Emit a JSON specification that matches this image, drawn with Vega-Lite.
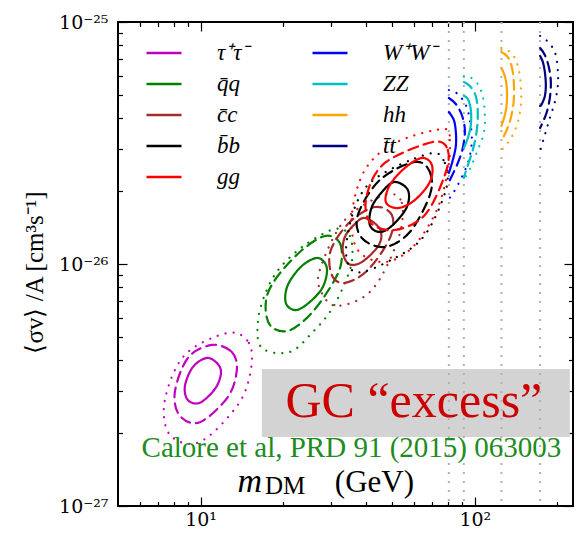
{
"$schema": "https://vega.github.io/schema/vega-lite/v6.json",
"width": 455, "height": 484,
"autosize": {"type": "none"},
"padding": {"left": 118, "top": 22, "right": 5, "bottom": 27},
"background": "white",
"config": {"view": {"stroke": "black", "strokeWidth": 2}, "font": "Liberation Serif"},
"datasets": {
"thr": [{"m": 80.4}, {"m": 91.2}, {"m": 125}, {"m": 173}],
"box": [{"x1": 16.73, "x2": 222, "y1": 1.928e-27, "y2": 3.683e-27}],
"closed": [
{"ch":"τ⁺τ⁻","lv":"1","i":1,"m":10.54,"sv":4.09e-27},{"ch":"τ⁺τ⁻","lv":"1","i":2,"m":11.56,"sv":3.86e-27},{"ch":"τ⁺τ⁻","lv":"1","i":3,"m":11.86,"sv":3.51e-27},{"ch":"τ⁺τ⁻","lv":"1","i":4,"m":11.27,"sv":3.04e-27},{"ch":"τ⁺τ⁻","lv":"1","i":5,"m":9.94,"sv":2.67e-27},{"ch":"τ⁺τ⁻","lv":"1","i":6,"m":8.99,"sv":2.74e-27},{"ch":"τ⁺τ⁻","lv":"1","i":7,"m":8.77,"sv":3.13e-27},{"ch":"τ⁺τ⁻","lv":"1","i":8,"m":9.37,"sv":3.75e-27},
{"ch":"τ⁺τ⁻","lv":"2","i":1,"m":11.0,"sv":4.63e-27},{"ch":"τ⁺τ⁻","lv":"2","i":2,"m":13.0,"sv":4.33e-27},{"ch":"τ⁺τ⁻","lv":"2","i":3,"m":13.56,"sv":3.65e-27},{"ch":"τ⁺τ⁻","lv":"2","i":4,"m":12.57,"sv":2.82e-27},{"ch":"τ⁺τ⁻","lv":"2","i":5,"m":9.94,"sv":2.22e-27},{"ch":"τ⁺τ⁻","lv":"2","i":6,"m":8.40,"sv":2.36e-27},{"ch":"τ⁺τ⁻","lv":"2","i":7,"m":8.06,"sv":2.96e-27},{"ch":"τ⁺τ⁻","lv":"2","i":8,"m":8.99,"sv":4.09e-27},
{"ch":"τ⁺τ⁻","lv":"3","i":1,"m":12.57,"sv":5.19e-27},{"ch":"τ⁺τ⁻","lv":"3","i":2,"m":15.0,"sv":4.72e-27},{"ch":"τ⁺τ⁻","lv":"3","i":3,"m":15.25,"sv":3.65e-27},{"ch":"τ⁺τ⁻","lv":"3","i":4,"m":13.68,"sv":2.62e-27},{"ch":"τ⁺τ⁻","lv":"3","i":5,"m":9.94,"sv":1.84e-27},{"ch":"τ⁺τ⁻","lv":"3","i":6,"m":7.73,"sv":1.97e-27},{"ch":"τ⁺τ⁻","lv":"3","i":7,"m":7.41,"sv":2.74e-27},{"ch":"τ⁺τ⁻","lv":"3","i":8,"m":8.77,"sv":4.21e-27},
{"ch":"q̄q","lv":"1","i":1,"m":26.78,"sv":1.059e-26},{"ch":"q̄q","lv":"1","i":2,"m":28.87,"sv":9.63e-27},{"ch":"q̄q","lv":"1","i":3,"m":27.92,"sv":8.04e-27},{"ch":"q̄q","lv":"1","i":4,"m":25.03,"sv":6.97e-27},{"ch":"q̄q","lv":"1","i":5,"m":22.26,"sv":6.45e-27},{"ch":"q̄q","lv":"1","i":6,"m":20.46,"sv":6.90e-27},{"ch":"q̄q","lv":"1","i":7,"m":20.81,"sv":8.19e-27},{"ch":"q̄q","lv":"1","i":8,"m":23.40,"sv":9.81e-27},
{"ch":"q̄q","lv":"2","i":1,"m":28.39,"sv":1.305e-26},{"ch":"q̄q","lv":"2","i":2,"m":32.19,"sv":1.221e-26},{"ch":"q̄q","lv":"2","i":3,"m":32.47,"sv":9.91e-27},{"ch":"q̄q","lv":"2","i":4,"m":29.61,"sv":7.96e-27},{"ch":"q̄q","lv":"2","i":5,"m":25.03,"sv":6.16e-27},{"ch":"q̄q","lv":"2","i":6,"m":20.81,"sv":5.29e-27},{"ch":"q̄q","lv":"2","i":7,"m":17.89,"sv":5.60e-27},{"ch":"q̄q","lv":"2","i":8,"m":17.30,"sv":6.97e-27},{"ch":"q̄q","lv":"2","i":9,"m":18.66,"sv":8.59e-27},{"ch":"q̄q","lv":"2","i":10,"m":23.01,"sv":1.121e-26},
{"ch":"q̄q","lv":"3","i":1,"m":30.87,"sv":1.395e-26},{"ch":"q̄q","lv":"3","i":2,"m":35.01,"sv":1.305e-26},{"ch":"q̄q","lv":"3","i":3,"m":35.61,"sv":1.019e-26},{"ch":"q̄q","lv":"3","i":4,"m":32.74,"sv":7.81e-27},{"ch":"q̄q","lv":"3","i":5,"m":29.61,"sv":6.33e-27},{"ch":"q̄q","lv":"3","i":6,"m":25.68,"sv":5.24e-27},{"ch":"q̄q","lv":"3","i":7,"m":21.16,"sv":4.33e-27},{"ch":"q̄q","lv":"3","i":8,"m":16.73,"sv":4.50e-27},{"ch":"q̄q","lv":"3","i":9,"m":16.18,"sv":5.76e-27},{"ch":"q̄q","lv":"3","i":10,"m":17.30,"sv":7.66e-27},{"ch":"q̄q","lv":"3","i":11,"m":19.46,"sv":9.63e-27},{"ch":"q̄q","lv":"3","i":12,"m":24.0,"sv":1.198e-26},
{"ch":"c̄c","lv":"1","i":1,"m":39.72,"sv":1.549e-26},{"ch":"c̄c","lv":"1","i":2,"m":45.05,"sv":1.395e-26},{"ch":"c̄c","lv":"1","i":3,"m":44.67,"sv":1.198e-26},{"ch":"c̄c","lv":"1","i":4,"m":38.73,"sv":1.019e-26},{"ch":"c̄c","lv":"1","i":5,"m":34.71,"sv":1.0e-26},{"ch":"c̄c","lv":"1","i":6,"m":33.03,"sv":1.121e-26},{"ch":"c̄c","lv":"1","i":7,"m":33.58,"sv":1.293e-26},{"ch":"c̄c","lv":"1","i":8,"m":36.22,"sv":1.449e-26},
{"ch":"c̄c","lv":"2","i":1,"m":43.19,"sv":1.72e-26},{"ch":"c̄c","lv":"2","i":2,"m":49.83,"sv":1.594e-26},{"ch":"c̄c","lv":"2","i":3,"m":49.0,"sv":1.281e-26},{"ch":"c̄c","lv":"2","i":4,"m":40.73,"sv":9.45e-27},{"ch":"c̄c","lv":"2","i":5,"m":33.58,"sv":8.35e-27},{"ch":"c̄c","lv":"2","i":6,"m":30.11,"sv":9.01e-27},{"ch":"c̄c","lv":"2","i":7,"m":29.85,"sv":1.142e-26},{"ch":"c̄c","lv":"2","i":8,"m":35.01,"sv":1.491e-26},
{"ch":"c̄c","lv":"3","i":1,"m":46.98,"sv":1.928e-26},{"ch":"c̄c","lv":"3","i":2,"m":54.19,"sv":1.787e-26},{"ch":"c̄c","lv":"3","i":3,"m":52.4,"sv":1.256e-26},{"ch":"c̄c","lv":"3","i":4,"m":42.12,"sv":7.81e-27},{"ch":"c̄c","lv":"3","i":5,"m":31.66,"sv":6.71e-27},{"ch":"c̄c","lv":"3","i":6,"m":27.68,"sv":7.59e-27},{"ch":"c̄c","lv":"3","i":7,"m":27.22,"sv":9.45e-27},{"ch":"c̄c","lv":"3","i":8,"m":33.58,"sv":1.52e-26},
{"ch":"b̄b","lv":"1","i":1,"m":51.09,"sv":2.183e-26},{"ch":"b̄b","lv":"1","i":2,"m":56.98,"sv":2.022e-26},{"ch":"b̄b","lv":"1","i":3,"m":56.51,"sv":1.72e-26},{"ch":"b̄b","lv":"1","i":4,"m":50.23,"sv":1.449e-26},{"ch":"b̄b","lv":"1","i":5,"m":45.05,"sv":1.356e-26},{"ch":"b̄b","lv":"1","i":6,"m":41.42,"sv":1.449e-26},{"ch":"b̄b","lv":"1","i":7,"m":42.12,"sv":1.72e-26},{"ch":"b̄b","lv":"1","i":8,"m":46.19,"sv":2.003e-26},
{"ch":"b̄b","lv":"2","i":1,"m":60.43,"sv":2.64e-26},{"ch":"b̄b","lv":"2","i":2,"m":68.55,"sv":2.40e-26},{"ch":"b̄b","lv":"2","i":3,"m":68.55,"sv":1.928e-26},{"ch":"b̄b","lv":"2","i":4,"m":57.94,"sv":1.356e-26},{"ch":"b̄b","lv":"2","i":5,"m":46.98,"sv":1.176e-26},{"ch":"b̄b","lv":"2","i":6,"m":38.73,"sv":1.281e-26},{"ch":"b̄b","lv":"2","i":7,"m":37.45,"sv":1.594e-26},{"ch":"b̄b","lv":"2","i":8,"m":45.05,"sv":2.224e-26},
{"ch":"b̄b","lv":"3","i":1,"m":67.42,"sv":2.848e-26},{"ch":"b̄b","lv":"3","i":2,"m":77.73,"sv":2.615e-26},{"ch":"b̄b","lv":"3","i":3,"m":78.4,"sv":2.022e-26},{"ch":"b̄b","lv":"3","i":4,"m":65.73,"sv":1.318e-26},{"ch":"b̄b","lv":"3","i":5,"m":51.09,"sv":1.059e-26},{"ch":"b̄b","lv":"3","i":6,"m":36.52,"sv":9.27e-27},{"ch":"b̄b","lv":"3","i":7,"m":34.14,"sv":1.256e-26},{"ch":"b̄b","lv":"3","i":8,"m":40.73,"sv":2.12e-26},
{"ch":"gg","lv":"1","i":1,"m":64.10,"sv":2.742e-26},{"ch":"gg","lv":"1","i":2,"m":69.7,"sv":2.566e-26},{"ch":"gg","lv":"1","i":3,"m":68.55,"sv":2.183e-26},{"ch":"gg","lv":"1","i":4,"m":60.43,"sv":1.838e-26},{"ch":"gg","lv":"1","i":5,"m":52.4,"sv":1.703e-26},{"ch":"gg","lv":"1","i":6,"m":47.37,"sv":1.804e-26},{"ch":"gg","lv":"1","i":7,"m":49.0,"sv":2.12e-26},{"ch":"gg","lv":"1","i":8,"m":55.56,"sv":2.493e-26},
{"ch":"gg","lv":"2","i":1,"m":70.29,"sv":3.192e-26},{"ch":"gg","lv":"2","i":2,"m":79.72,"sv":2.958e-26},{"ch":"gg","lv":"2","i":3,"m":77.73,"sv":2.332e-26},{"ch":"gg","lv":"2","i":4,"m":65.73,"sv":1.594e-26},{"ch":"gg","lv":"2","i":5,"m":51.09,"sv":1.382e-26},{"ch":"gg","lv":"2","i":6,"m":41.42,"sv":1.491e-26},{"ch":"gg","lv":"2","i":7,"m":40.39,"sv":1.928e-26},{"ch":"gg","lv":"2","i":8,"m":46.98,"sv":2.615e-26},
{"ch":"gg","lv":"3","i":1,"m":76.43,"sv":3.613e-26},{"ch":"gg","lv":"3","i":2,"m":81.07,"sv":3.253e-26},{"ch":"gg","lv":"3","i":3,"m":79.72,"sv":2.446e-26},{"ch":"gg","lv":"3","i":4,"m":72.69,"sv":1.672e-26},{"ch":"gg","lv":"3","i":5,"m":59.43,"sv":1.176e-26},{"ch":"gg","lv":"3","i":6,"m":46.98,"sv":1.019e-26},{"ch":"gg","lv":"3","i":7,"m":37.45,"sv":1.142e-26},{"ch":"gg","lv":"3","i":8,"m":35.61,"sv":1.594e-26},{"ch":"gg","lv":"3","i":9,"m":39.72,"sv":2.446e-26},{"ch":"gg","lv":"3","i":10,"m":51.09,"sv":3.162e-26}
],
"open": [
{"ch":"W⁺W⁻","lv":"1","i":1,"m":80.4,"sv":4.247e-26},{"ch":"W⁺W⁻","lv":"1","i":2,"m":83.84,"sv":3.936e-26},{"ch":"W⁺W⁻","lv":"1","i":3,"m":85.26,"sv":3.511e-26},{"ch":"W⁺W⁻","lv":"1","i":4,"m":85.26,"sv":3.073e-26},{"ch":"W⁺W⁻","lv":"1","i":5,"m":83.14,"sv":2.691e-26},{"ch":"W⁺W⁻","lv":"1","i":6,"m":80.4,"sv":2.377e-26},
{"ch":"W⁺W⁻","lv":"2","i":1,"m":80.4,"sv":4.853e-26},{"ch":"W⁺W⁻","lv":"2","i":2,"m":85.26,"sv":4.583e-26},{"ch":"W⁺W⁻","lv":"2","i":3,"m":89.65,"sv":4.128e-26},{"ch":"W⁺W⁻","lv":"2","i":4,"m":91.96,"sv":3.579e-26},{"ch":"W⁺W⁻","lv":"2","i":5,"m":90.41,"sv":3.016e-26},{"ch":"W⁺W⁻","lv":"2","i":6,"m":86.7,"sv":2.615e-26},{"ch":"W⁺W⁻","lv":"2","i":7,"m":81.77,"sv":2.266e-26},{"ch":"W⁺W⁻","lv":"2","i":8,"m":80.4,"sv":2.183e-26},
{"ch":"W⁺W⁻","lv":"3","i":1,"m":80.4,"sv":5.236e-26},{"ch":"W⁺W⁻","lv":"3","i":2,"m":86.7,"sv":5.041e-26},{"ch":"W⁺W⁻","lv":"3","i":3,"m":92.72,"sv":4.539e-26},{"ch":"W⁺W⁻","lv":"3","i":4,"m":95.9,"sv":3.936e-26},{"ch":"W⁺W⁻","lv":"3","i":5,"m":97.52,"sv":3.253e-26},{"ch":"W⁺W⁻","lv":"3","i":6,"m":95.08,"sv":2.691e-26},{"ch":"W⁺W⁻","lv":"3","i":7,"m":89.65,"sv":2.288e-26},{"ch":"W⁺W⁻","lv":"3","i":8,"m":83.84,"sv":1.984e-26},{"ch":"W⁺W⁻","lv":"3","i":9,"m":80.4,"sv":1.856e-26},
{"ch":"ZZ","lv":"1","i":1,"m":91.2,"sv":4.946e-26},{"ch":"ZZ","lv":"1","i":2,"m":94.3,"sv":4.807e-26},{"ch":"ZZ","lv":"1","i":3,"m":96.7,"sv":4.329e-26},{"ch":"ZZ","lv":"1","i":4,"m":96.7,"sv":3.753e-26},{"ch":"ZZ","lv":"1","i":5,"m":94.3,"sv":3.316e-26},{"ch":"ZZ","lv":"1","i":6,"m":91.2,"sv":3.016e-26},
{"ch":"ZZ","lv":"2","i":1,"m":91.2,"sv":5.649e-26},{"ch":"ZZ","lv":"2","i":2,"m":95.9,"sv":5.439e-26},{"ch":"ZZ","lv":"2","i":3,"m":100.8,"sv":4.946e-26},{"ch":"ZZ","lv":"2","i":4,"m":102.5,"sv":4.247e-26},{"ch":"ZZ","lv":"2","i":5,"m":101.7,"sv":3.579e-26},{"ch":"ZZ","lv":"2","i":6,"m":98.33,"sv":2.958e-26},{"ch":"ZZ","lv":"2","i":7,"m":93.5,"sv":2.493e-26},{"ch":"ZZ","lv":"2","i":8,"m":91.2,"sv":2.266e-26},
{"ch":"ZZ","lv":"3","i":1,"m":91.2,"sv":5.983e-26},{"ch":"ZZ","lv":"3","i":2,"m":95.9,"sv":5.926e-26},{"ch":"ZZ","lv":"3","i":3,"m":102.5,"sv":5.543e-26},{"ch":"ZZ","lv":"3","i":4,"m":107.0,"sv":4.9e-26},{"ch":"ZZ","lv":"3","i":5,"m":108.8,"sv":4.128e-26},{"ch":"ZZ","lv":"3","i":6,"m":107.9,"sv":3.478e-26},{"ch":"ZZ","lv":"3","i":7,"m":102.5,"sv":2.958e-26},{"ch":"ZZ","lv":"3","i":8,"m":96.69,"sv":2.517e-26},{"ch":"ZZ","lv":"3","i":9,"m":92.0,"sv":2.266e-26},{"ch":"ZZ","lv":"3","i":10,"m":91.2,"sv":2.224e-26},
{"ch":"hh","lv":"1","i":1,"m":125,"sv":6.453e-26},{"ch":"hh","lv":"1","i":2,"m":128.6,"sv":5.983e-26},{"ch":"hh","lv":"1","i":3,"m":130.8,"sv":5.337e-26},{"ch":"hh","lv":"1","i":4,"m":130.8,"sv":4.627e-26},{"ch":"hh","lv":"1","i":5,"m":128.6,"sv":4.128e-26},{"ch":"hh","lv":"1","i":6,"m":125,"sv":3.718e-26},
{"ch":"hh","lv":"2","i":1,"m":125,"sv":7.516e-26},{"ch":"hh","lv":"2","i":2,"m":131.9,"sv":7.167e-26},{"ch":"hh","lv":"2","i":3,"m":136.4,"sv":6.516e-26},{"ch":"hh","lv":"2","i":4,"m":138.7,"sv":5.649e-26},{"ch":"hh","lv":"2","i":5,"m":138.7,"sv":4.761e-26},{"ch":"hh","lv":"2","i":6,"m":135.3,"sv":4.012e-26},{"ch":"hh","lv":"2","i":7,"m":129.7,"sv":3.511e-26},{"ch":"hh","lv":"2","i":8,"m":125,"sv":3.223e-26},
{"ch":"hh","lv":"3","i":1,"m":125,"sv":7.81e-26},{"ch":"hh","lv":"3","i":2,"m":133.0,"sv":7.589e-26},{"ch":"hh","lv":"3","i":3,"m":139.9,"sv":7.099e-26},{"ch":"hh","lv":"3","i":4,"m":144.7,"sv":6.334e-26},{"ch":"hh","lv":"3","i":5,"m":147.2,"sv":5.387e-26},{"ch":"hh","lv":"3","i":6,"m":147.2,"sv":4.539e-26},{"ch":"hh","lv":"3","i":7,"m":143.5,"sv":3.862e-26},{"ch":"hh","lv":"3","i":8,"m":137.5,"sv":3.412e-26},{"ch":"hh","lv":"3","i":9,"m":130.8,"sv":3.132e-26},{"ch":"hh","lv":"3","i":10,"m":125,"sv":2.958e-26},
{"ch":"t̄t","lv":"1","i":1,"m":173,"sv":7.236e-26},{"ch":"t̄t","lv":"1","i":2,"m":177.0,"sv":6.835e-26},{"ch":"t̄t","lv":"1","i":3,"m":180.0,"sv":6.215e-26},{"ch":"t̄t","lv":"1","i":4,"m":181.5,"sv":5.49e-26},{"ch":"t̄t","lv":"1","i":5,"m":180.0,"sv":4.946e-26},{"ch":"t̄t","lv":"1","i":6,"m":175.5,"sv":4.583e-26},{"ch":"t̄t","lv":"1","i":7,"m":173,"sv":4.497e-26},
{"ch":"t̄t","lv":"2","i":1,"m":173,"sv":7.81e-26},{"ch":"t̄t","lv":"2","i":2,"m":180.0,"sv":7.305e-26},{"ch":"t̄t","lv":"2","i":3,"m":186.1,"sv":6.516e-26},{"ch":"t̄t","lv":"2","i":4,"m":189.3,"sv":5.649e-26},{"ch":"t̄t","lv":"2","i":5,"m":187.7,"sv":4.853e-26},{"ch":"t̄t","lv":"2","i":6,"m":183.0,"sv":4.247e-26},{"ch":"t̄t","lv":"2","i":7,"m":177.0,"sv":3.862e-26},{"ch":"t̄t","lv":"2","i":8,"m":173,"sv":3.648e-26},
{"ch":"t̄t","lv":"3","i":1,"m":173,"sv":8.754e-26},{"ch":"t̄t","lv":"3","i":2,"m":178.5,"sv":8.588e-26},{"ch":"t̄t","lv":"3","i":3,"m":189.3,"sv":8.035e-26},{"ch":"t̄t","lv":"3","i":4,"m":197.3,"sv":7.305e-26},{"ch":"t̄t","lv":"3","i":5,"m":200.7,"sv":6.334e-26},{"ch":"t̄t","lv":"3","i":6,"m":200.7,"sv":5.439e-26},{"ch":"t̄t","lv":"3","i":7,"m":195.7,"sv":4.671e-26},{"ch":"t̄t","lv":"3","i":8,"m":187.7,"sv":4.012e-26},{"ch":"t̄t","lv":"3","i":9,"m":180.0,"sv":3.412e-26},{"ch":"t̄t","lv":"3","i":10,"m":173.5,"sv":2.958e-26},{"ch":"t̄t","lv":"3","i":11,"m":173,"sv":2.875e-26}
]
},
"layer": [
{
"data": {"name": "box"},
"mark": {"type": "rect", "color": "#d3d3d3"},
"encoding": {
"x": {"field": "x1", "type": "quantitative", "scale": {"type": "log", "domain": [5, 228], "nice": false}, "axis": null},
"x2": {"field": "x2"},
"y": {"field": "y1", "type": "quantitative", "scale": {"type": "log", "domain": [1e-27, 1e-25], "nice": false}, "axis": null},
"y2": {"field": "y2"}
}
},
{
"data": {"name": "thr"},
"mark": {"type": "rule", "color": "#b0b0b0", "strokeWidth": 2, "strokeDash": [2, 7]},
"encoding": {
"x": {"field": "m", "type": "quantitative", "scale": {"type": "log", "domain": [5, 228], "nice": false}, "axis": null}
}
},
{
"data": {"name": "closed"},
"mark": {"type": "line", "interpolate": "cardinal-closed", "strokeWidth": 2.2, "strokeCap": "round"},
"encoding": {
"x": {"field": "m", "type": "quantitative", "scale": {"type": "log", "domain": [5, 228], "nice": false},
"axis": {"orient": "bottom", "values": [6,7,8,9,10,20,30,40,50,60,70,80,90,100,200],
"labelExpr": "datum.value == 10 ? '10¹' : datum.value == 100 ? '10²' : ''",
"tickSize": {"condition": {"test": "datum.value == 10 || datum.value == 100", "value": -9}, "value": -4.5},
"tickColor": "black", "tickWidth": 1.2, "domain": false, "grid": false, "title": null,
"labelFont": "DejaVu Serif", "labelFontSize": 19, "labelColor": "black", "labelPadding": 13, "labelOverlap": false, "labelFlush": false}},
"y": {"field": "sv", "type": "quantitative", "scale": {"type": "log", "domain": [1e-27, 1e-25], "nice": false},
"axis": {"orient": "left", "values": [1e-27,2e-27,3e-27,4e-27,5e-27,6e-27,7e-27,8e-27,9e-27,1e-26,2e-26,3e-26,4e-26,5e-26,6e-26,7e-26,8e-26,9e-26,1e-25],
"labelExpr": "abs(datum.value/1e-27 - 1) < 1e-6 ? '10⁻²⁷' : abs(datum.value/1e-26 - 1) < 1e-6 ? '10⁻²⁶' : abs(datum.value/1e-25 - 1) < 1e-6 ? '10⁻²⁵' : ''",
"tickSize": {"condition": {"test": "abs(log(datum.value)/LN10 - round(log(datum.value)/LN10)) < 0.001", "value": -9}, "value": -4.5},
"tickColor": "black", "tickWidth": 1.2, "domain": false, "grid": false,
"title": "⟨σv⟩ /A [cm³s⁻¹]", "titleFont": "Liberation Serif", "titleFontSize": 25, "titleFontWeight": "normal", "titleColor": "black",
"titleX": -84, "titleY": 250, "titleBaseline": "middle",
"labelFont": "DejaVu Serif", "labelFontSize": 19, "labelColor": "black", "labelPadding": 19, "labelOverlap": false, "labelFlush": false}},
"color": {"field": "ch", "type": "nominal",
"scale": {"domain": ["τ⁺τ⁻","q̄q","c̄c","b̄b","gg","W⁺W⁻","ZZ","hh","t̄t"], "range": ["#bf00bf","#008000","#a52a2a","#000000","#ff0000","#0000ff","#00bfbf","#ffa500","#000080"]},
"legend": {"orient": "none", "legendX": 27, "legendY": 12, "columns": 2, "symbolType": "stroke", "symbolSize": 1225, "symbolStrokeWidth": 2.5, "labelFont": "Liberation Serif", "labelFontStyle": "italic", "labelFontSize": 23, "labelColor": "black", "labelOffset": 34, "rowPadding": -3, "columnPadding": 57, "title": null, "padding": 0}},
"strokeDash": {"field": "lv", "type": "nominal", "scale": {"domain": ["1","2","3"], "range": [[1,0],[10,6],[0.1,8]]}, "legend": null},
"order": {"field": "i", "type": "quantitative"}
}
},
{
"data": {"name": "open"},
"mark": {"type": "line", "interpolate": "cardinal", "strokeWidth": 2.2, "strokeCap": "round"},
"encoding": {
"x": {"field": "m", "type": "quantitative", "scale": {"type": "log", "domain": [5, 228], "nice": false},
"axis": {"orient": "top", "values": [6,7,8,9,10,20,30,40,50,60,70,80,90,100,200], "labels": false,
"tickSize": {"condition": {"test": "datum.value == 10 || datum.value == 100", "value": -9}, "value": -4.5},
"tickColor": "black", "tickWidth": 1.2, "domain": false, "grid": false, "title": null}},
"y": {"field": "sv", "type": "quantitative", "scale": {"type": "log", "domain": [1e-27, 1e-25], "nice": false},
"axis": {"orient": "right", "values": [1e-27,2e-27,3e-27,4e-27,5e-27,6e-27,7e-27,8e-27,9e-27,1e-26,2e-26,3e-26,4e-26,5e-26,6e-26,7e-26,8e-26,9e-26,1e-25], "labels": false,
"tickSize": {"condition": {"test": "abs(log(datum.value)/LN10 - round(log(datum.value)/LN10)) < 0.001", "value": -9}, "value": -4.5},
"tickColor": "black", "tickWidth": 1.2, "domain": false, "grid": false, "title": null}},
"color": {"field": "ch", "type": "nominal",
"scale": {"domain": ["τ⁺τ⁻","q̄q","c̄c","b̄b","gg","W⁺W⁻","ZZ","hh","t̄t"], "range": ["#bf00bf","#008000","#a52a2a","#000000","#ff0000","#0000ff","#00bfbf","#ffa500","#000080"]},
"legend": {"orient": "none", "legendX": 27, "legendY": 12, "columns": 2, "symbolType": "stroke", "symbolSize": 1225, "symbolStrokeWidth": 2.5, "labelFont": "Liberation Serif", "labelFontStyle": "italic", "labelFontSize": 23, "labelColor": "black", "labelOffset": 34, "rowPadding": -3, "columnPadding": 57, "title": null, "padding": 0}},
"strokeDash": {"field": "lv", "type": "nominal", "scale": {"domain": ["1","2","3"], "range": [[1,0],[10,6],[0.1,8]]}, "legend": null},
"order": {"field": "i", "type": "quantitative"}
}
},
{
"data": {"values": [{"t": "GC “excess”", "m": 59.95, "sv": 2.332e-27}]},
"mark": {"type": "text", "font": "Liberation Serif", "fontSize": 50, "color": "#cc0000", "align": "center", "baseline": "alphabetic"},
"encoding": {
"x": {"field": "m", "type": "quantitative", "scale": {"type": "log", "domain": [5, 228], "nice": false}, "axis": null},
"y": {"field": "sv", "type": "quantitative", "scale": {"type": "log", "domain": [1e-27, 1e-25], "nice": false}, "axis": null},
"text": {"field": "t"}
}
},
{
"data": {"values": [{"t": "Calore et al, PRD 91 (2015) 063003", "m": 35.47, "sv": 1.6e-27}]},
"mark": {"type": "text", "font": "Liberation Serif", "fontSize": 29, "color": "#1e8c1e", "align": "center", "baseline": "alphabetic"},
"encoding": {
"x": {"field": "m", "type": "quantitative", "scale": {"type": "log", "domain": [5, 228], "nice": false}, "axis": null},
"y": {"field": "sv", "type": "quantitative", "scale": {"type": "log", "domain": [1e-27, 1e-25], "nice": false}, "axis": null},
"text": {"field": "t"}
}
},
{
"data": {"values": [{"t": "m", "m": 15.13, "sv": 1.143e-27}]},
"mark": {"type": "text", "font": "Liberation Serif", "fontSize": 34, "fontStyle": "italic", "color": "black", "align": "center", "baseline": "alphabetic"},
"encoding": {
"x": {"field": "m", "type": "quantitative", "scale": {"type": "log", "domain": [5, 228], "nice": false}, "axis": null},
"y": {"field": "sv", "type": "quantitative", "scale": {"type": "log", "domain": [1e-27, 1e-25], "nice": false}, "axis": null},
"text": {"field": "t"}
}
},
{
"data": {"values": [{"t": "DM", "m": 17.16, "sv": 1.12e-27}]},
"mark": {"type": "text", "font": "Liberation Serif", "fontSize": 25, "color": "black", "align": "left", "baseline": "alphabetic"},
"encoding": {
"x": {"field": "m", "type": "quantitative", "scale": {"type": "log", "domain": [5, 228], "nice": false}, "axis": null},
"y": {"field": "sv", "type": "quantitative", "scale": {"type": "log", "domain": [1e-27, 1e-25], "nice": false}, "axis": null},
"text": {"field": "t"}
}
},
{
"data": {"values": [{"t": "(GeV)", "m": 30.87, "sv": 1.14e-27}]},
"mark": {"type": "text", "font": "Liberation Serif", "fontSize": 31, "color": "black", "align": "left", "baseline": "alphabetic"},
"encoding": {
"x": {"field": "m", "type": "quantitative", "scale": {"type": "log", "domain": [5, 228], "nice": false}, "axis": null},
"y": {"field": "sv", "type": "quantitative", "scale": {"type": "log", "domain": [1e-27, 1e-25], "nice": false}, "axis": null},
"text": {"field": "t"}
}
}
],
"resolve": {"axis": {"x": "independent", "y": "independent"}}
}
